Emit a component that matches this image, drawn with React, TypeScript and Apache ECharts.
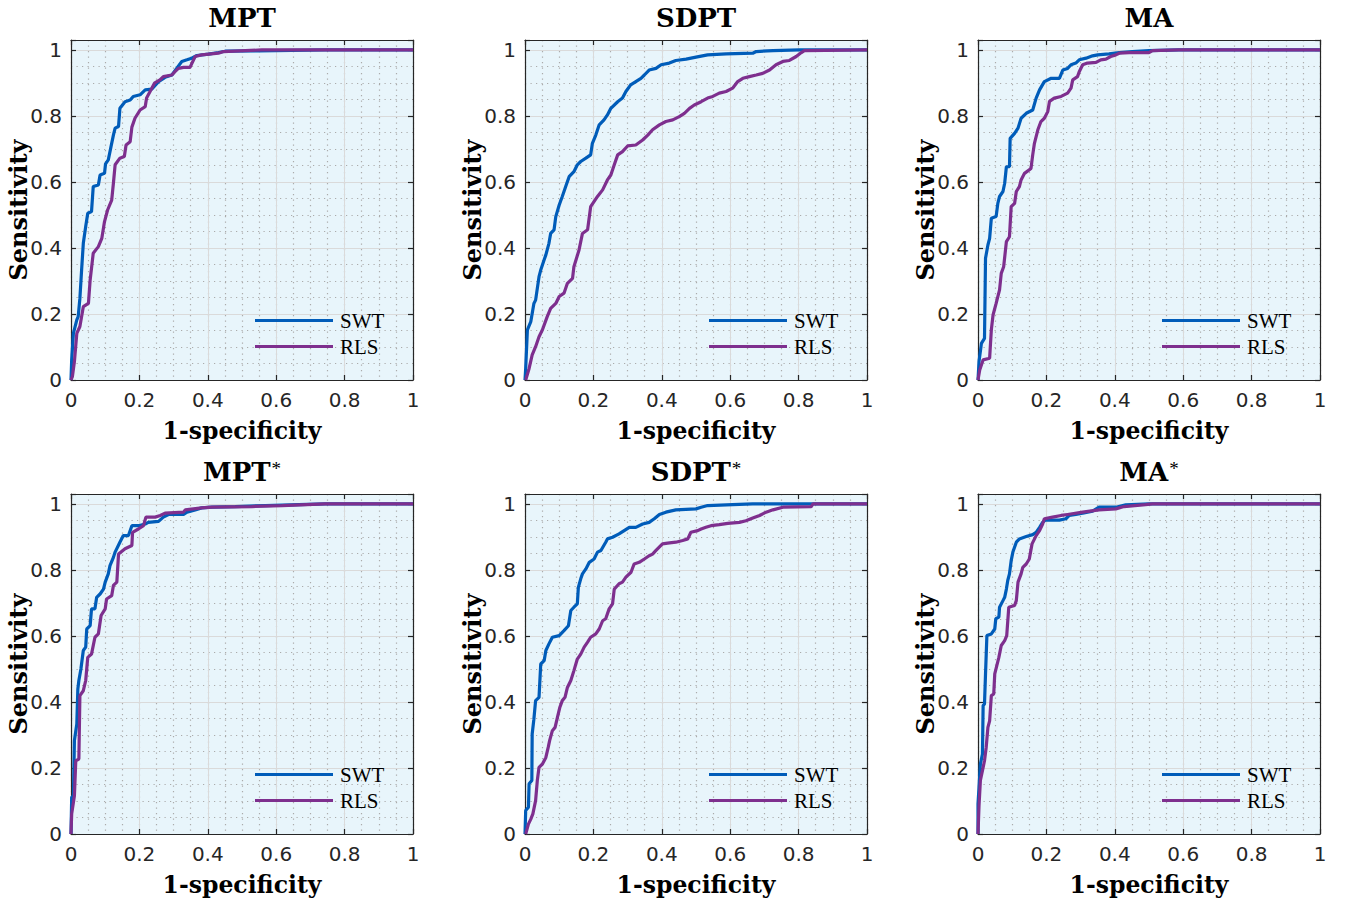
import React, { useEffect, useRef } from 'react';
import * as echarts from 'echarts';

const PANEL_TITLES = ['MPT', 'SDPT', 'MA', 'MPT', 'SDPT', 'MA'];
const PANEL_STARRED = [false, false, false, true, true, true];
const SERIES_NAMES = ['SWT', 'RLS'];
const SERIES_COLORS = ['#005cb9', '#7e2f8e'];
const X_LABEL = '1-specificity';
const Y_LABEL = 'Sensitivity';

const MPT_SWT: number[][] = [
  [0, 0], [0.002, 0.061], [0.007, 0.141], [0.017, 0.182], [0.021, 0.192], [0.026, 0.247], [0.031, 0.333],
  [0.036, 0.414], [0.043, 0.465], [0.049, 0.505], [0.06, 0.51], [0.065, 0.586], [0.08, 0.591], [0.085, 0.621],
  [0.098, 0.626], [0.101, 0.655], [0.109, 0.667], [0.117, 0.707], [0.124, 0.742], [0.129, 0.763], [0.139, 0.768],
  [0.143, 0.823], [0.158, 0.843], [0.173, 0.848], [0.182, 0.859], [0.202, 0.864], [0.217, 0.879], [0.236, 0.881],
  [0.256, 0.904], [0.275, 0.917], [0.295, 0.924], [0.309, 0.944], [0.324, 0.965], [0.339, 0.97], [0.353, 0.975],
  [0.368, 0.983], [0.402, 0.987], [0.431, 0.992], [0.451, 0.996], [0.548, 0.997], [0.743, 1], [1, 1],
];
const MPT_RLS: number[][] = [
  [0, 0], [0.004, 0.01], [0.01, 0.056], [0.017, 0.141], [0.026, 0.162], [0.036, 0.222], [0.051, 0.232],
  [0.056, 0.303], [0.065, 0.384], [0.08, 0.404], [0.09, 0.429], [0.098, 0.48], [0.107, 0.515], [0.119, 0.545],
  [0.124, 0.596], [0.129, 0.652], [0.143, 0.672], [0.156, 0.677], [0.161, 0.712], [0.173, 0.722], [0.178, 0.766],
  [0.187, 0.793], [0.202, 0.818], [0.217, 0.828], [0.221, 0.854], [0.234, 0.879], [0.244, 0.899], [0.26, 0.909],
  [0.27, 0.919], [0.295, 0.924], [0.304, 0.934], [0.314, 0.944], [0.329, 0.947], [0.348, 0.947], [0.363, 0.98],
  [0.382, 0.985], [0.431, 0.99], [0.446, 0.995], [0.558, 1], [1, 1],
];
const SDPT_SWT: number[][] = [
  [0, 0], [0.002, 0.035], [0.007, 0.152], [0.017, 0.177], [0.026, 0.232], [0.031, 0.242], [0.041, 0.313],
  [0.046, 0.333], [0.056, 0.364], [0.061, 0.379], [0.07, 0.414], [0.075, 0.444], [0.085, 0.455], [0.09, 0.495],
  [0.1, 0.53], [0.109, 0.556], [0.119, 0.586], [0.129, 0.616], [0.143, 0.631], [0.153, 0.652], [0.163, 0.662],
  [0.178, 0.672], [0.192, 0.682], [0.197, 0.717], [0.207, 0.742], [0.217, 0.773], [0.231, 0.788], [0.241, 0.803],
  [0.251, 0.823], [0.271, 0.843], [0.285, 0.854], [0.295, 0.874], [0.309, 0.894], [0.324, 0.904], [0.339, 0.914],
  [0.349, 0.924], [0.363, 0.939], [0.383, 0.944], [0.398, 0.955], [0.422, 0.96], [0.441, 0.968], [0.471, 0.972],
  [0.5, 0.978], [0.534, 0.985], [0.588, 0.988], [0.666, 0.99], [0.676, 0.995], [0.725, 0.998], [0.803, 1], [1, 1],
];
const SDPT_RLS: number[][] = [
  [0.002, 0], [0.012, 0.035], [0.021, 0.076], [0.031, 0.101], [0.041, 0.131], [0.051, 0.152], [0.065, 0.192],
  [0.075, 0.217], [0.09, 0.232], [0.1, 0.253], [0.114, 0.263], [0.124, 0.293], [0.139, 0.308], [0.143, 0.343],
  [0.158, 0.394], [0.168, 0.444], [0.183, 0.455], [0.192, 0.525], [0.212, 0.556], [0.227, 0.576], [0.241, 0.606],
  [0.251, 0.621], [0.261, 0.652], [0.271, 0.682], [0.285, 0.692], [0.3, 0.709], [0.324, 0.712], [0.344, 0.727],
  [0.359, 0.742], [0.373, 0.758], [0.393, 0.773], [0.412, 0.783], [0.432, 0.788], [0.451, 0.798], [0.466, 0.808],
  [0.481, 0.823], [0.495, 0.833], [0.515, 0.843], [0.534, 0.854], [0.549, 0.859], [0.568, 0.869], [0.588, 0.874],
  [0.607, 0.884], [0.622, 0.904], [0.637, 0.914], [0.656, 0.919], [0.676, 0.924], [0.695, 0.929], [0.715, 0.939],
  [0.734, 0.955], [0.754, 0.965], [0.773, 0.968], [0.793, 0.98], [0.808, 0.992], [0.817, 0.998], [1, 1],
];
const MA_SWT: number[][] = [
  [0, 0], [0.003, 0.056], [0.01, 0.111], [0.019, 0.126], [0.022, 0.369], [0.029, 0.409], [0.034, 0.429],
  [0.039, 0.49], [0.053, 0.495], [0.058, 0.535], [0.063, 0.556], [0.073, 0.571], [0.078, 0.596], [0.083, 0.646],
  [0.092, 0.646], [0.094, 0.732], [0.107, 0.747], [0.117, 0.763], [0.126, 0.793], [0.141, 0.808], [0.16, 0.818],
  [0.17, 0.854], [0.18, 0.879], [0.194, 0.904], [0.214, 0.914], [0.238, 0.914], [0.248, 0.939], [0.262, 0.944],
  [0.272, 0.955], [0.286, 0.96], [0.296, 0.97], [0.316, 0.975], [0.335, 0.982], [0.35, 0.985], [0.383, 0.988],
  [0.413, 0.992], [0.451, 0.995], [0.5, 0.998], [0.587, 1], [1, 1],
];
const MA_RLS: number[][] = [
  [0, 0], [0.005, 0.03], [0.015, 0.061], [0.034, 0.066], [0.039, 0.152], [0.044, 0.197], [0.053, 0.232],
  [0.063, 0.273], [0.068, 0.323], [0.075, 0.343], [0.083, 0.419], [0.092, 0.434], [0.097, 0.525], [0.107, 0.535],
  [0.112, 0.571], [0.121, 0.586], [0.126, 0.606], [0.136, 0.626], [0.155, 0.641], [0.16, 0.682], [0.165, 0.717],
  [0.175, 0.758], [0.184, 0.783], [0.194, 0.793], [0.204, 0.813], [0.209, 0.844], [0.223, 0.854], [0.243, 0.859],
  [0.262, 0.869], [0.272, 0.884], [0.277, 0.909], [0.291, 0.919], [0.296, 0.934], [0.306, 0.955], [0.32, 0.96],
  [0.345, 0.962], [0.359, 0.97], [0.374, 0.972], [0.388, 0.98], [0.403, 0.985], [0.413, 0.99], [0.442, 0.992],
  [0.5, 0.992], [0.51, 0.998], [0.587, 1], [1, 1],
];
const MPTS_SWT: number[][] = [
  [0, 0], [0.002, 0.111], [0.007, 0.116], [0.01, 0.283], [0.017, 0.333], [0.02, 0.439], [0.023, 0.465],
  [0.029, 0.5], [0.036, 0.556], [0.043, 0.566], [0.046, 0.621], [0.056, 0.631], [0.06, 0.682], [0.07, 0.682],
  [0.075, 0.717], [0.085, 0.727], [0.095, 0.742], [0.1, 0.763], [0.109, 0.788], [0.114, 0.813], [0.124, 0.838],
  [0.129, 0.854], [0.143, 0.884], [0.153, 0.904], [0.168, 0.904], [0.178, 0.934], [0.197, 0.934], [0.217, 0.939],
  [0.226, 0.944], [0.256, 0.947], [0.27, 0.96], [0.285, 0.968], [0.329, 0.968], [0.339, 0.975], [0.363, 0.982],
  [0.382, 0.988], [0.412, 0.99], [0.48, 0.992], [0.568, 0.995], [0.666, 0.998], [0.743, 1], [1, 1],
];
const MPTS_RLS: number[][] = [
  [0, 0], [0.002, 0.061], [0.01, 0.116], [0.014, 0.222], [0.023, 0.227], [0.026, 0.419], [0.036, 0.434],
  [0.043, 0.465], [0.049, 0.535], [0.06, 0.545], [0.07, 0.596], [0.08, 0.606], [0.088, 0.662], [0.1, 0.682],
  [0.104, 0.712], [0.119, 0.722], [0.124, 0.753], [0.134, 0.763], [0.139, 0.848], [0.158, 0.864], [0.178, 0.874],
  [0.18, 0.914], [0.197, 0.924], [0.212, 0.934], [0.219, 0.96], [0.246, 0.96], [0.261, 0.965], [0.275, 0.972],
  [0.329, 0.975], [0.334, 0.982], [0.382, 0.988], [0.412, 0.99], [0.529, 0.992], [0.617, 0.995], [0.743, 1], [1, 1],
];
const SDPTS_SWT: number[][] = [
  [0, 0], [0.002, 0.071], [0.01, 0.081], [0.012, 0.152], [0.02, 0.162], [0.021, 0.303], [0.026, 0.348],
  [0.031, 0.404], [0.041, 0.414], [0.046, 0.515], [0.056, 0.525], [0.061, 0.556], [0.07, 0.576], [0.08, 0.596],
  [0.1, 0.601], [0.114, 0.616], [0.127, 0.631], [0.134, 0.677], [0.143, 0.687], [0.153, 0.697], [0.156, 0.747],
  [0.163, 0.773], [0.168, 0.788], [0.178, 0.803], [0.188, 0.823], [0.202, 0.833], [0.212, 0.854], [0.222, 0.859],
  [0.236, 0.884], [0.241, 0.894], [0.256, 0.899], [0.275, 0.909], [0.29, 0.919], [0.305, 0.929], [0.324, 0.929],
  [0.344, 0.939], [0.363, 0.944], [0.378, 0.955], [0.393, 0.968], [0.412, 0.975], [0.441, 0.982], [0.5, 0.985],
  [0.515, 0.99], [0.534, 0.995], [0.607, 0.998], [0.666, 1], [1, 1],
];
const SDPTS_RLS: number[][] = [
  [0.002, 0], [0.01, 0.03], [0.017, 0.045], [0.023, 0.061], [0.031, 0.101], [0.036, 0.162], [0.041, 0.202],
  [0.051, 0.212], [0.061, 0.232], [0.068, 0.263], [0.072, 0.283], [0.08, 0.313], [0.088, 0.323], [0.095, 0.354],
  [0.102, 0.384], [0.109, 0.404], [0.117, 0.414], [0.124, 0.444], [0.134, 0.465], [0.143, 0.495], [0.153, 0.53],
  [0.163, 0.545], [0.173, 0.566], [0.183, 0.581], [0.192, 0.596], [0.207, 0.606], [0.217, 0.621], [0.227, 0.646],
  [0.236, 0.652], [0.246, 0.682], [0.256, 0.697], [0.261, 0.742], [0.275, 0.758], [0.285, 0.763], [0.295, 0.778],
  [0.31, 0.793], [0.319, 0.818], [0.334, 0.823], [0.349, 0.833], [0.363, 0.843], [0.373, 0.848], [0.383, 0.859],
  [0.402, 0.879], [0.417, 0.881], [0.441, 0.884], [0.461, 0.889], [0.476, 0.894], [0.485, 0.914], [0.505, 0.919],
  [0.515, 0.924], [0.529, 0.929], [0.544, 0.934], [0.568, 0.937], [0.593, 0.941], [0.627, 0.944], [0.646, 0.949],
  [0.666, 0.957], [0.686, 0.965], [0.705, 0.975], [0.725, 0.982], [0.754, 0.99], [0.837, 0.992], [0.842, 1], [1, 1],
];
const MAS_SWT: number[][] = [
  [0, 0], [0, 0.091], [0.003, 0.141], [0.007, 0.212], [0.013, 0.242], [0.015, 0.389], [0.019, 0.394],
  [0.022, 0.485], [0.026, 0.601], [0.039, 0.606], [0.049, 0.621], [0.052, 0.652], [0.061, 0.657], [0.063, 0.687],
  [0.073, 0.707], [0.078, 0.717], [0.083, 0.742], [0.087, 0.768], [0.092, 0.788], [0.097, 0.828], [0.102, 0.854],
  [0.112, 0.884], [0.121, 0.894], [0.141, 0.901], [0.16, 0.907], [0.17, 0.914], [0.18, 0.929], [0.189, 0.944],
  [0.197, 0.951], [0.238, 0.951], [0.257, 0.955], [0.267, 0.965], [0.286, 0.968], [0.306, 0.972], [0.335, 0.978],
  [0.354, 0.99], [0.403, 0.99], [0.432, 0.997], [0.5, 1], [1, 1],
];
const MAS_RLS: number[][] = [
  [0, 0], [0.003, 0.086], [0.007, 0.162], [0.015, 0.202], [0.019, 0.222], [0.024, 0.263], [0.029, 0.323],
  [0.034, 0.343], [0.039, 0.419], [0.046, 0.424], [0.049, 0.485], [0.055, 0.51], [0.061, 0.535], [0.068, 0.571],
  [0.078, 0.586], [0.084, 0.601], [0.09, 0.687], [0.107, 0.692], [0.112, 0.707], [0.117, 0.763], [0.126, 0.788],
  [0.131, 0.808], [0.141, 0.818], [0.15, 0.833], [0.158, 0.879], [0.17, 0.904], [0.18, 0.919], [0.189, 0.939],
  [0.194, 0.955], [0.218, 0.96], [0.243, 0.965], [0.262, 0.968], [0.306, 0.975], [0.354, 0.982], [0.403, 0.985],
  [0.427, 0.992], [0.49, 0.998], [0.51, 1], [1, 1],
];

const PANEL_DATA = [
  [MPT_SWT, MPT_RLS],
  [SDPT_SWT, SDPT_RLS],
  [MA_SWT, MA_RLS],
  [MPTS_SWT, MPTS_RLS],
  [SDPTS_SWT, SDPTS_RLS],
  [MAS_SWT, MAS_RLS],
];

const LEFTS = [71, 525, 978];
const TOPS = [40, 494];
const PW = 342;
const PH = 340;
const Y_MAX = 1.03;

const TICK_FONT = 'DejaVu Sans';
const SERIF = '"Liberation Serif", "DejaVu Serif", serif';
const BOLD_SERIF = '"DejaVu Serif", "Liberation Serif", serif';
const AX_COLOR = '#262626';

function fmt(v: number): string {
  if (Math.abs(v * 5 - Math.round(v * 5)) > 1e-6) return '';
  if (Math.abs(v) < 1e-9) return '0';
  if (Math.abs(v - 1) < 1e-9) return '1';
  return v.toFixed(1);
}

function buildOption() {
  const grid: any[] = [];
  const xAxis: any[] = [];
  const yAxis: any[] = [];
  const series: any[] = [];
  const legend: any[] = [];
  const graphic: any[] = [];

  for (let i = 0; i < 6; i++) {
    const left = LEFTS[i % 3];
    const top = TOPS[Math.floor(i / 3)];
    grid.push({
      left, top, width: PW, height: PH,
      show: true, backgroundColor: '#e8f5fb', borderWidth: 0, containLabel: false,
    });
    const lineStyle = { color: AX_COLOR, width: 1.2 };
    xAxis.push({
      type: 'value', gridIndex: i, position: 'bottom', min: 0, max: 1, interval: 0.2,
      axisLine: { show: true, onZero: false, lineStyle },
      axisTick: { show: true, inside: true, length: 5, lineStyle },
      axisLabel: { show: true, margin: 10, fontFamily: TICK_FONT, fontSize: 20, color: AX_COLOR, formatter: fmt },
      splitLine: { show: true, lineStyle: { color: '#dadada', width: 1 } },
      z: 2,
    });
    xAxis.push({
      type: 'value', gridIndex: i, position: 'top', min: 0, max: 1, interval: 0.2,
      axisLine: { show: true, onZero: false, lineStyle },
      axisTick: { show: true, inside: true, length: 5, lineStyle },
      axisLabel: { show: false },
      splitLine: { show: false },
      z: 2,
    });
    xAxis.push({
      type: 'value', gridIndex: i, position: 'bottom', min: 0, max: 1, interval: 0.05,
      axisLine: { show: false, onZero: false }, axisTick: { show: false }, axisLabel: { show: false },
      splitLine: { show: true, lineStyle: { color: '#ababab', width: 1.2, type: [1.2, 4.3] } },
      z: 1,
    });
    yAxis.push({
      type: 'value', gridIndex: i, position: 'left', min: 0, max: Y_MAX, interval: 0.2,
      axisLine: { show: true, onZero: false, lineStyle },
      axisTick: { show: true, inside: true, length: 5, lineStyle },
      axisLabel: { show: true, margin: 9, fontFamily: TICK_FONT, fontSize: 20, color: AX_COLOR, formatter: fmt },
      splitLine: { show: true, lineStyle: { color: '#dadada', width: 1 } },
      z: 2,
    });
    yAxis.push({
      type: 'value', gridIndex: i, position: 'right', min: 0, max: Y_MAX, interval: 0.2,
      axisLine: { show: true, onZero: false, lineStyle },
      axisTick: { show: true, inside: true, length: 5, lineStyle },
      axisLabel: { show: false },
      splitLine: { show: false },
      z: 2,
    });
    yAxis.push({
      type: 'value', gridIndex: i, position: 'left', min: 0, max: Y_MAX, interval: 0.05,
      axisLine: { show: false, onZero: false }, axisTick: { show: false }, axisLabel: { show: false },
      splitLine: { show: true, lineStyle: { color: '#ababab', width: 1.2, type: [1.2, 4.3] } },
      z: 1,
    });

    PANEL_DATA[i].forEach((data, k) => {
      series.push({
        type: 'line', name: SERIES_NAMES[k], xAxisIndex: i * 3, yAxisIndex: i * 3,
        data, showSymbol: false, symbol: 'none', clip: true,
        lineStyle: { color: SERIES_COLORS[k], width: 3.2 },
        itemStyle: { color: SERIES_COLORS[k] },
        z: 3 + k,
      });
    });

    legend.push({
      orient: 'vertical', left: left + 184, top: top + 270, padding: 0, z: 10,
      icon: 'rect', itemWidth: 78, itemHeight: 3, itemGap: 5, selectedMode: false,
      data: SERIES_NAMES,
      textStyle: { fontFamily: SERIF, fontSize: 21, color: '#000', lineHeight: 21, padding: [0, 0, 0, 2] },
    });

    const cx = left + PW / 2;
    const titleText = PANEL_STARRED[i]
      ? '{b|' + PANEL_TITLES[i] + '}{s|*}'
      : '{b|' + PANEL_TITLES[i] + '}';
    graphic.push({
      type: 'text', x: cx, y: top - 22,
      style: {
        text: titleText, align: 'center', verticalAlign: 'middle',
        rich: {
          b: { fontFamily: BOLD_SERIF, fontWeight: 'bold', fontSize: 26, fill: '#000' },
          s: { fontFamily: SERIF, fontSize: 19, fill: '#000', verticalAlign: 'top', padding: [0, 0, 0, 1] },
        },
      },
    });
    graphic.push({
      type: 'text', x: cx, y: top + PH + 51,
      style: {
        text: X_LABEL, align: 'center', verticalAlign: 'middle',
        fontFamily: BOLD_SERIF, fontWeight: 'bold', fontSize: 23.5, fill: '#000',
      },
    });
    graphic.push({
      type: 'text', x: left - 53, y: top + PH / 2, rotation: Math.PI / 2,
      style: {
        text: Y_LABEL, align: 'center', verticalAlign: 'middle',
        fontFamily: BOLD_SERIF, fontWeight: 'bold', fontSize: 24, fill: '#000',
      },
    });
  }

  return {
    animation: false,
    backgroundColor: '#ffffff',
    grid, xAxis, yAxis, series, legend, graphic,
  };
}

export default function App() {
  const ref = useRef<HTMLDivElement>(null);
  useEffect(() => {
    if (!ref.current) return;
    const chart = echarts.init(ref.current, undefined, { renderer: 'svg' });
    chart.setOption(buildOption() as any);
    return () => chart.dispose();
  }, []);
  return (
    <div
      ref={ref}
      style={{ position: 'fixed', left: 0, top: 0, width: 1346, height: 903 }}
    />
  );
}
